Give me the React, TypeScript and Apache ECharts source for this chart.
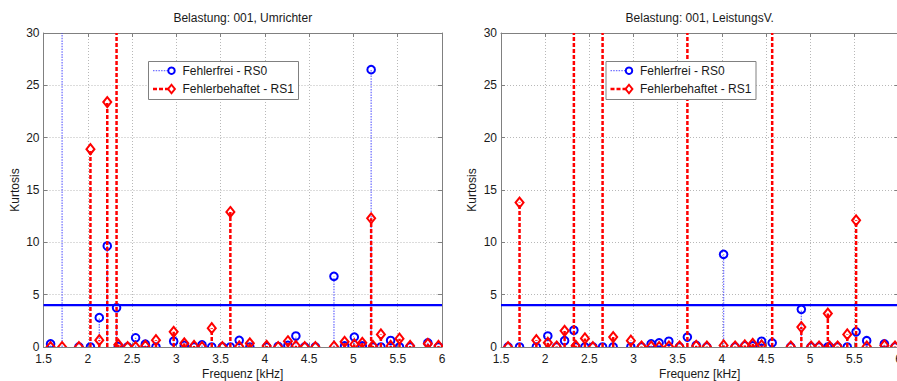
import React, { useEffect, useRef } from "react";
import * as echarts from "echarts";

// ---- data ----
const freqs = [
  1.58, 1.71, 1.9, 2.03, 2.13, 2.22, 2.325, 2.345, 2.45, 2.54, 2.65, 2.77, 2.97,
  3.09, 3.2, 3.29, 3.4, 3.52, 3.61, 3.71, 3.83, 4.02, 4.15, 4.26, 4.35, 4.45,
  4.57, 4.78, 4.9, 5.01, 5.1, 5.2, 5.22, 5.31, 5.42, 5.52, 5.64, 5.84, 5.96,
];
// Umrichter
const leftRS0 = [
  0.3, 45, 0, 0, 2.8, 9.65, 3.75, 0.05, 0, 0.88, 0.27, 0, 0.55,
  0.15, 0, 0.2, 0, 0, 0, 0.64, 0, 0, 0.05, 0.15, 1.05, 0,
  0, 6.75, 0.1, 0.95, 0.1, 26.5, 0, 0, 0.62, 0, 0, 0.4, 0,
];
const leftRS1 = [
  0, 0, 0, 18.9, 0.65, 23.4, 45, 0.22, 0, 0, 0.1, 0.65, 1.45,
  0.35, 0.1, 0, 1.8, 0, 12.9, 0.05, 0.35, 0.1, 0, 0.55, 0.1, 0,
  0, 0.05, 0.5, 0.25, 0.4, 12.3, 0.1, 1.2, 0.1, 0.8, 0.1, 0.3, 0.1,
];
// LeistungsV.
const rightRS0 = [
  0, 0, 0, 1.05, 0, 0.6, 1.6, 0, 0, 0, 0, 0, 0,
  0, 0.3, 0.4, 0.55, 0, 0.95, 0.15, 0, 8.85, 0, 0.1, 0.1, 0.55,
  0.4, 0, 3.6, 0, 0, 0, 0, 0, 0, 1.45, 0.6, 0.3, 0,
];
const rightRS1 = [
  0, 13.8, 0.65, 0.4, 0.05, 1.55, 45, 0.12, 0.82, 0, 45, 0.95, 0.6,
  0.05, 0.05, 0, 0.05, 0.05, 45, 0.1, 0.05, 0.15, 0.05, 0.15, 0.3, 0.15,
  45, 0.05, 1.9, 0.05, 0.05, 3.2, 0.05, 0.05, 1.2, 12.1, 0.05, 0.15, 0.05,
];
const titles = ["Belastung: 001, Umrichter", "Belastung: 001, LeistungsV."];
const seriesNames = ["Fehlerfrei - RS0", "Fehlerbehaftet - RS1"];
const xAxisName = "Frequenz [kHz]";
const yAxisName = "Kurtosis";
const xMin = 1.5;
const xMax = 6;
const xStep = 0.5;
const yMin = 0;
const yMax = 30;
const yStep = 5;
const threshold = 4;

// ---- styles ----
const FONT = "'Liberation Sans', Arial, Helvetica, sans-serif";
const AXIS_COLOR = "#808080";
const TEXT_COLOR = "#1a1a1a";
const BLUE = "#0000ff";
const RED = "#ff0000";
const blueStem = { stroke: "rgba(40,40,255,0.65)", lineWidth: 1.3, lineDash: [1.5, 1.2] };
const redStem = { stroke: RED, lineWidth: 2.5, lineDash: [4, 2] };

const grids = [
  { left: 43.5, top: 33, width: 398.5, height: 314 },
  { left: 501, top: 33, width: 397.5, height: 314 },
];

function marker(kind: string, x: number, y: number, s: number) {
  if (kind === "circle") {
    return {
      type: "circle",
      shape: { cx: x, cy: y, r: 3.8 * s },
      style: { fill: "none", stroke: BLUE, lineWidth: 2 },
    };
  }
  return {
    type: "polygon",
    shape: {
      points: [
        [x, y - 5 * s],
        [x + 4 * s, y],
        [x, y + 5 * s],
        [x - 4 * s, y],
      ],
    },
    style: { fill: "none", stroke: RED, lineWidth: 2 },
  };
}

function stemSeries(name: string, gi: number, vals: number[], kind: string, stemStyle: any, z: number) {
  return {
    type: "custom",
    name,
    xAxisIndex: gi * 2,
    yAxisIndex: gi * 2,
    z,
    silent: true,
    clip: true,
    encode: { x: 0, y: 1 },
    data: freqs.map((f, i) => [f, vals[i]]),
    renderItem: (_params: any, api: any) => {
      const f = api.value(0);
      const v = api.value(1);
      const base = api.coord([f, yMin]);
      const top = api.coord([f, Math.min(v, yMax)]);
      const children: any[] = [
        {
          type: "line",
          shape: { x1: base[0], y1: base[1], x2: top[0], y2: top[1] },
          style: { ...stemStyle, fill: "none" },
        },
      ];
      if (v <= yMax) children.push(marker(kind, top[0], top[1], 1));
      return { type: "group", children };
    },
  };
}

function legendGraphics(x0: number) {
  const y0 = 61;
  const rows = [
    { name: seriesNames[0], kind: "circle", style: blueStem, y: y0 + 9.7 },
    { name: seriesNames[1], kind: "diamond", style: redStem, y: y0 + 28 },
  ];
  const els: any[] = [
    {
      type: "rect",
      shape: { x: x0 + 0.5, y: y0 + 0.5, width: 150, height: 38 },
      style: { fill: "#fff", stroke: AXIS_COLOR, lineWidth: 1 },
      z: 100,
    },
  ];
  rows.forEach((r) => {
    els.push({
      type: "line",
      shape: { x1: x0 + 5, y1: r.y, x2: x0 + 21, y2: r.y },
      style: { ...r.style, fill: "none" },
      z: 101,
    });
    els.push({ ...marker(r.kind, x0 + 23.5, r.y, 0.85), z: 102 });
    els.push({
      type: "text",
      x: x0 + 34.5,
      y: r.y,
      style: {
        text: r.name,
        fontSize: 12,
        fontFamily: FONT,
        fill: TEXT_COLOR,
        verticalAlign: "middle",
        align: "left",
      },
      z: 102,
    });
  });
  return els;
}

export default function App() {
  const ref = useRef<HTMLDivElement>(null);
  useEffect(() => {
    if (!ref.current) return;
    const chart = echarts.init(ref.current, undefined, { renderer: "svg" });

    const xAxes: any[] = [];
    const yAxes: any[] = [];
    grids.forEach((_g, gi) => {
      const common = {
        gridIndex: gi,
        type: "value",
        axisLine: { show: true, onZero: false, lineStyle: { color: AXIS_COLOR, width: 1 } },
        axisTick: { show: true, inside: true, length: 4, lineStyle: { color: AXIS_COLOR } },
      };
      xAxes.push({
        ...common,
        position: "bottom",
        min: xMin,
        max: xMax,
        interval: xStep,
        name: xAxisName,
        nameLocation: "middle",
        nameGap: 20,
        nameMoveOverlap: false,
        nameTextStyle: { color: TEXT_COLOR, fontSize: 12, fontFamily: FONT, lineHeight: 13 },
        axisLabel: { color: TEXT_COLOR, fontSize: 12, fontFamily: FONT, margin: 6 },
        splitLine: { show: true, lineStyle: { color: "#b8b8b8", type: [1, 2], width: 1 } },
      });
      xAxes.push({
        ...common,
        position: "top",
        min: xMin,
        max: xMax,
        interval: xStep,
        axisLabel: { show: false },
        splitLine: { show: false },
      });
      yAxes.push({
        ...common,
        position: "left",
        min: yMin,
        max: yMax,
        interval: yStep,
        name: yAxisName,
        nameLocation: "middle",
        nameGap: 23,
        nameMoveOverlap: false,
        nameTextStyle: { color: TEXT_COLOR, fontSize: 12, fontFamily: FONT },
        axisLabel: { color: TEXT_COLOR, fontSize: 12, fontFamily: FONT, margin: 4 },
        splitLine: { show: true, lineStyle: { color: "#b8b8b8", type: [1, 2], width: 1 } },
      });
      yAxes.push({
        ...common,
        position: "right",
        min: yMin,
        max: yMax,
        interval: yStep,
        axisLabel: { show: false },
        splitLine: { show: false },
      });
    });

    const data = [
      [leftRS0, leftRS1],
      [rightRS0, rightRS1],
    ];
    const series: any[] = [];
    data.forEach((pair, gi) => {
      series.push(stemSeries(seriesNames[0], gi, pair[0], "circle", blueStem, 3));
      series.push(stemSeries(seriesNames[1], gi, pair[1], "diamond", redStem, 4));
      series.push({
        type: "line",
        xAxisIndex: gi * 2,
        yAxisIndex: gi * 2,
        data: [
          [xMin, threshold],
          [xMax, threshold],
        ],
        symbol: "none",
        silent: true,
        z: 5,
        lineStyle: { color: BLUE, width: 2.2 },
      });
    });

    const graphic: any[] = [];
    grids.forEach((g, gi) => {
      graphic.push({
        type: "text",
        x: g.left + g.width / 2,
        y: 18,
        style: {
          text: titles[gi],
          fontSize: 12,
          fontFamily: FONT,
          fill: TEXT_COLOR,
          align: "center",
          verticalAlign: "middle",
        },
      });
      graphic.push(...legendGraphics(g.left + 104.5));
    });

    chart.setOption({
      animation: false,
      textStyle: { fontFamily: FONT },
      grid: grids.map((g) => ({ ...g, containLabel: false, outerBoundsMode: "none" })),
      xAxis: xAxes,
      yAxis: yAxes,
      series,
      graphic,
    });
    return () => chart.dispose();
  }, []);
  return (
    <div
      ref={ref}
      style={{ position: "fixed", left: 0, top: 0, width: 897, height: 381, background: "#fff" }}
    />
  );
}
